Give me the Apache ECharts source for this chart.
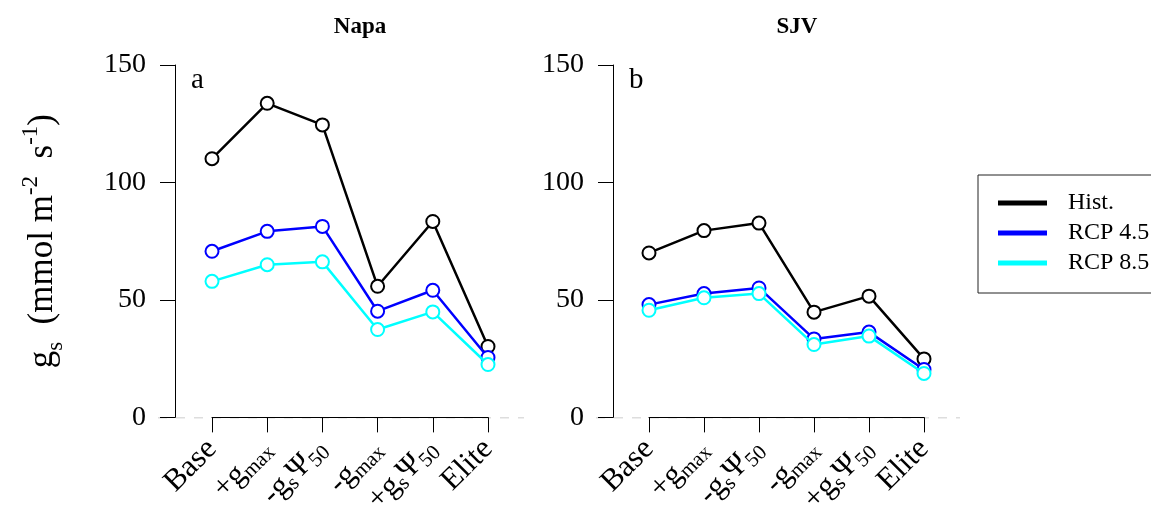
<!DOCTYPE html>
<html>
<head>
<meta charset="utf-8">
<script src="https://cdn.jsdelivr.net/npm/echarts@6/dist/echarts.min.js"></script>
<style>
html,body{margin:0;padding:0;background:#fff;}
#chart{width:1151px;height:519px;}
</style>
</head>
<body>
<div id="chart"></div>
<script>
// ---- data ----
const categories = ['Base', '+g{sub|max}', '-g{sub|s}Ψ{sub|50}', '-g{sub|max}', '+g{sub|s}Ψ{sub|50}', 'Elite'];
const seriesNames = ['Hist.', 'RCP 4.5', 'RCP 8.5'];
const napaHist = [110.1, 133.7, 124.5, 55.8, 83.4, 30.2];
const napaRcp45 = [70.7, 79.2, 81.3, 45.2, 54.1, 25.5];
const napaRcp85 = [57.9, 65.0, 66.2, 37.4, 44.9, 22.5];
const sjvHist = [70.0, 79.5, 82.7, 44.8, 51.6, 24.9];
const sjvRcp45 = [48.0, 52.7, 55.1, 33.4, 36.3, 20.4];
const sjvRcp85 = [45.6, 50.9, 52.7, 31.0, 34.6, 18.7];
const yTicks = [0, 50, 100, 150];
const zeroLine = [[0, 0], [1, 0]];
const panelTitles = ['Napa', 'SJV'];
const panelLetters = ['a', 'b'];

const colors = ['#000000', '#0000ff', '#00ffff'];
const FONT = "'Liberation Serif', 'Times New Roman', serif";

const chart = echarts.init(document.getElementById('chart'));

const xLabelRich = {
  sub: { fontSize: 21, fontFamily: FONT, color: '#000', verticalAlign: 'bottom', padding: [14, 0, 0, 0] }
};

function catAxis(gridIndex) {
  return {
    type: 'category', gridIndex, data: categories, boundaryGap: false,
    axisLine: { show: true, lineStyle: { color: '#000', width: 1 } },
    axisTick: { show: true, length: 15, lineStyle: { color: '#000', width: 1 } },
    axisLabel: {
      rotate: 45, margin: 27, interval: 0, fontSize: 31, fontFamily: FONT, color: '#000',
      rich: xLabelRich
    },
    splitLine: { show: false }
  };
}
function valAxis(gridIndex, offset, withName) {
  const ax = {
    type: 'value', gridIndex, min: yTicks[0], max: yTicks[yTicks.length - 1], interval: 50,
    offset,
    axisLine: { show: true, lineStyle: { color: '#000', width: 1 } },
    axisTick: { show: true, length: 15, lineStyle: { color: '#000', width: 1 } },
    axisLabel: { margin: 29, fontSize: 28, fontFamily: FONT, color: '#000' },
    splitLine: { show: false }
  };
  if (withName) {
    ax.name = 'g{sub|s}  (mmol m{sup|-2}  s{sup|-1})';
    ax.nameLocation = 'middle';
    ax.nameRotate = 90;
    ax.nameGap = 108;
    ax.nameTextStyle = {
      fontSize: 35, fontFamily: FONT, color: '#000', lineHeight: 48,
      rich: {
        sub: { fontSize: 23, fontFamily: FONT, color: '#000', verticalAlign: 'bottom', lineHeight: 48 },
        sup: { fontSize: 23, fontFamily: FONT, color: '#000', verticalAlign: 'top', lineHeight: 48 }
      }
    };
  }
  return ax;
}
function hiddenX(gridIndex) {
  return { type: 'value', gridIndex, min: 0, max: 1, show: false };
}
function hiddenY(gridIndex) {
  return { type: 'value', gridIndex, min: 0, max: 150, show: false };
}
function lineSeries(name, data, ci, xi, yi) {
  return {
    name, type: 'line', data, xAxisIndex: xi, yAxisIndex: yi,
    symbol: 'emptyCircle', symbolSize: 13,
    lineStyle: { color: colors[ci], width: 2.5 },
    itemStyle: { color: colors[ci], borderColor: colors[ci], borderWidth: 3 },
    emphasis: { disabled: true }, animation: false, z: 3 + ci
  };
}
function zeroSeries(xi, yi) {
  return {
    type: 'line', data: zeroLine, xAxisIndex: xi, yAxisIndex: yi,
    symbol: 'none', silent: true, animation: false, z: -1,
    lineStyle: { color: '#bbbbbb', width: 1, type: [9, 9] }
  };
}

const option = {
  backgroundColor: '#fff',
  animation: false,
  grid: [
    { left: 212, right: 663, top: 65, bottom: 101 },
    { left: 649, right: 227, top: 65, bottom: 101 },
    { left: 158, right: 627, top: 65, bottom: 101 },
    { left: 596, right: 191, top: 65, bottom: 101 }
  ],
  xAxis: [catAxis(0), catAxis(1), hiddenX(2), hiddenX(3)],
  yAxis: [valAxis(0, 37, true), valAxis(1, 36, false), hiddenY(2), hiddenY(3)],
  legend: {
    data: seriesNames.map(n => ({ name: n, icon: 'rect' })),
    orient: 'vertical', left: 978, top: 175,
    itemWidth: 47, itemHeight: 3, itemGap: 6,
    padding: [16, 60, 18, 20],
    borderColor: '#222', borderWidth: 1,
    textStyle: { fontSize: 24, fontFamily: FONT, color: '#000', padding: [0, 0, 0, 17] },
    selectedMode: false
  },
  graphic: [
    { type: 'text', x: 360, y: 27, style: { text: panelTitles[0], font: "bold 23px 'Liberation Serif', serif", fill: '#000', textAlign: 'center', textVerticalAlign: 'middle' } },
    { type: 'text', x: 797, y: 27, style: { text: panelTitles[1], font: "bold 23px 'Liberation Serif', serif", fill: '#000', textAlign: 'center', textVerticalAlign: 'middle' } },
    { type: 'text', x: 191, y: 80, style: { text: panelLetters[0], font: "29px 'Liberation Serif', serif", fill: '#000', textAlign: 'left', textVerticalAlign: 'middle' } },
    { type: 'text', x: 629, y: 80, style: { text: panelLetters[1], font: "29px 'Liberation Serif', serif", fill: '#000', textAlign: 'left', textVerticalAlign: 'middle' } }
  ],
  series: [
    zeroSeries(2, 2), zeroSeries(3, 3),
    lineSeries(seriesNames[0], napaHist, 0, 0, 0),
    lineSeries(seriesNames[1], napaRcp45, 1, 0, 0),
    lineSeries(seriesNames[2], napaRcp85, 2, 0, 0),
    lineSeries(seriesNames[0], sjvHist, 0, 1, 1),
    lineSeries(seriesNames[1], sjvRcp45, 1, 1, 1),
    lineSeries(seriesNames[2], sjvRcp85, 2, 1, 1)
  ]
};
chart.setOption(option);
</script>
</body>
</html>
